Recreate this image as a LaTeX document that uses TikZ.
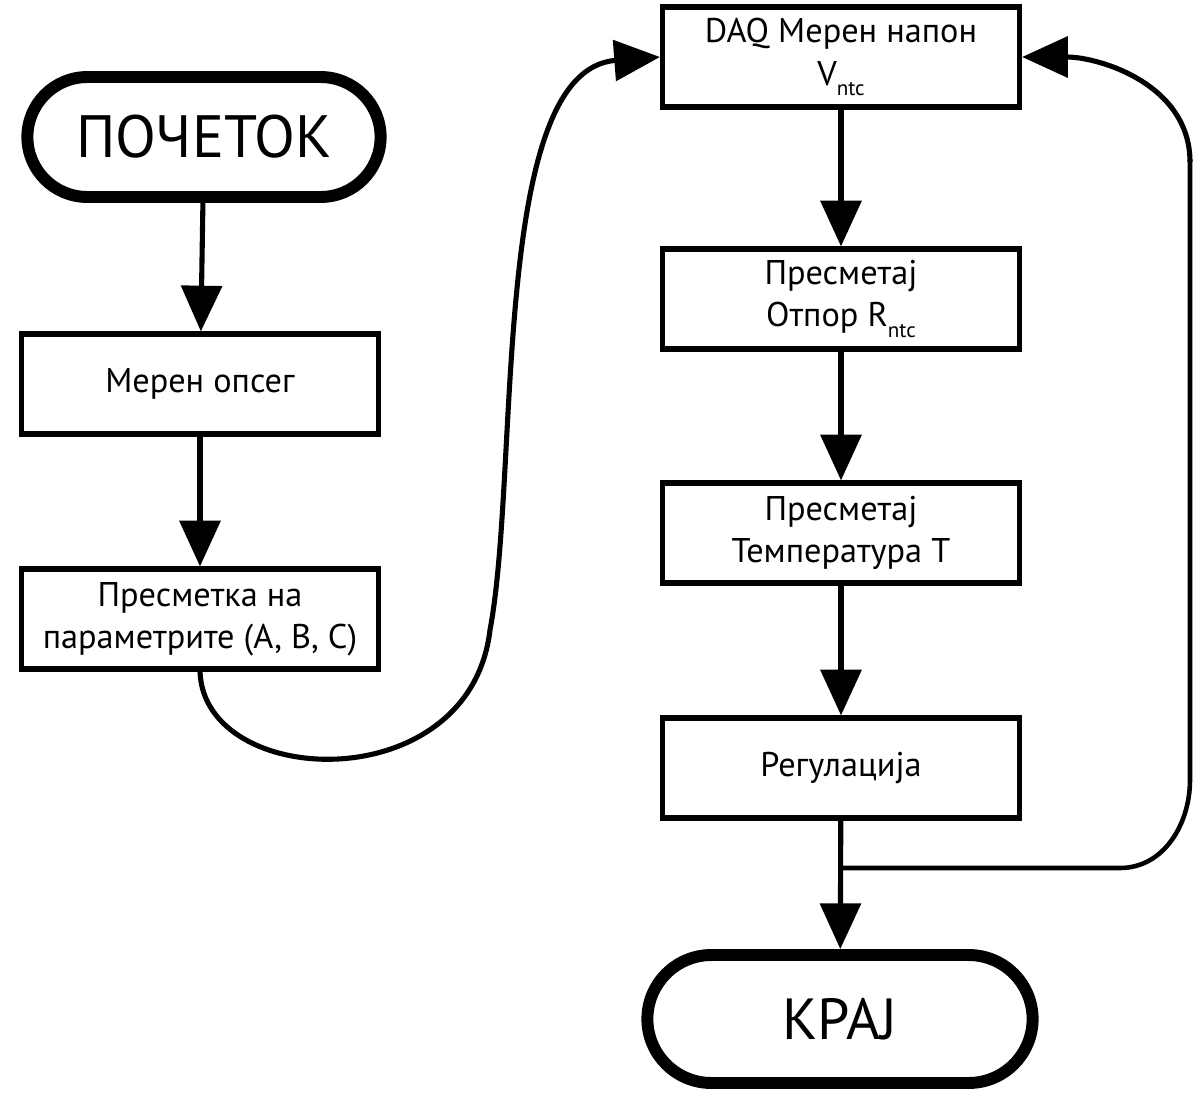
\documentclass[tikz,border=0pt]{standalone}
\usepackage{fontspec}
\setmainfont{PT Sans}
\usetikzlibrary{shapes.misc, arrows.meta}

\begin{document}
\begin{tikzpicture}[x=0.02cm, y=-0.02cm,
  box/.style={draw, line width=3pt, minimum width=7.14cm, minimum height=2cm,
    align=center, font=\fontsize{19.5}{24}\selectfont, inner sep=2pt},
  term/.style={draw, rounded rectangle, line width=6.8pt, align=center},
  flow/.style={line width=2.9pt, -{Triangle[width=23pt, length=26pt]}},
  loopline/.style={line width=2.6pt}]
  \useasboundingbox (0,0) rectangle (1198,1095);

  % left column
  \node[term, minimum width=7.3cm, minimum height=2.4cm,
    font=\fontsize{34}{40}\selectfont] (start) at (204,137) {ПОЧЕТОК};
  \node[box] (range) at (200,384) {Мерен опсег};
  \node[box] (param) at (200,619) {Пресметка на\\параметрите (A, B, C)};

  % right column
  \node[box] (daq) at (841,57) {DAQ Мерен напон\\V\raisebox{-0.6ex}{\fontsize{12}{12}\selectfont ntc}};
  \node[box] (res) at (841,299) {Пресметај\\Отпор R\raisebox{-0.6ex}{\fontsize{12}{12}\selectfont ntc}};
  \node[box] (temp) at (841,533) {Пресметај\\Температура T};
  \node[box] (reg) at (841,768) {Регулација};
  \node[term, minimum width=7.94cm, minimum height=2.56cm,
    font=\fontsize{33}{38}\selectfont] (stop) at (840,1019) {КРАЈ};

  % vertical flow
  \draw[flow] (start) -- (range);
  \draw[flow] (range) -- (param);
  \draw[flow] (daq) -- (res);
  \draw[flow] (res) -- (temp);
  \draw[flow] (temp) -- (reg);
  \draw[flow] (reg) -- (stop);

  % jump to the measuring loop
  \draw[flow] (param.south) .. controls (204,790) and (470,800) .. (490,630)
    .. controls (520,470) and (490,70) .. (daq.west);

  % feedback loop
  \coordinate (jn) at (841,868);
  \draw[loopline] (jn) -- (1120,868) to[out=0, in=-90] (1190,780) -- (1190,160);
  \draw[flow] (1190,162) to[out=90, in=0] (daq.east);
\end{tikzpicture}
\end{document}
